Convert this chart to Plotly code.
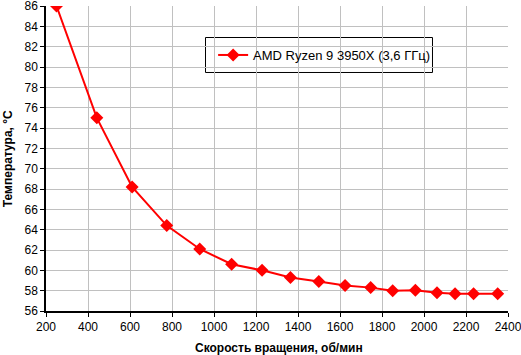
import plotly.graph_objects as go

rpm = [250, 442, 610, 775, 932, 1084, 1229, 1364, 1499, 1624, 1746, 1851, 1959, 2062, 2148, 2236, 2351]
temp = [86.0, 75.0, 68.2, 64.4, 62.1, 60.6, 60.0, 59.3, 58.9, 58.5, 58.3, 58.0, 58.05, 57.8, 57.7, 57.7, 57.7]
series_name = "AMD Ryzen 9 3950X (3,6 ГГц)"
x_title = "Скорость вращения, об/мин"
y_title = "Температура, °C"

fig = go.Figure()
fig.add_trace(go.Scatter(
    x=rpm, y=temp, mode="lines+markers", name=series_name,
    line=dict(color="#ff0000", width=2),
    marker=dict(symbol="diamond", size=10, color="#ff0000"),
))

ff = "Liberation Sans, Arial, sans-serif"
font = dict(family=ff, size=12, color="black")
fig.update_layout(
    width=521, height=355,
    margin=dict(l=46, r=13, t=6, b=44, autoexpand=False),
    paper_bgcolor="white", plot_bgcolor="white",
    font=font,
    showlegend=True,
    legend=dict(
        x=0.602, y=0.8393, xanchor="center", yanchor="middle",
        borderwidth=0, bgcolor="rgba(0,0,0,0)",
        font=dict(family=ff, size=13, color="black"),
    ),
    shapes=[dict(
        type="rect", xref="paper", yref="paper",
        x0=0.34524, x1=0.83658, y0=0.78197, y1=0.89672,
        line=dict(color="black", width=1), fillcolor="white", layer="below",
    )],
    annotations=[
        dict(text="<b>" + x_title + "</b>", xref="paper", yref="paper",
             x=0.505, y=-0.121, xanchor="center", yanchor="middle",
             showarrow=False, font=dict(family=ff, size=12, color="black")),
        dict(text="<b>" + y_title + "</b>", xref="paper", yref="paper",
             x=-0.083, y=0.5, xanchor="center", yanchor="middle", textangle=-90,
             showarrow=False, font=dict(family=ff, size=12, color="black")),
    ],
)
fig.update_xaxes(
    range=[200, 2400], dtick=200, tick0=200,
    showgrid=True, gridcolor="#c0c0c0", gridwidth=1,
    showline=True, linecolor="black", linewidth=1.5,
    ticks="outside", ticklen=4, tickcolor="black",
    zeroline=False, automargin=False, ticklabeloverflow="allow",
)
fig.update_yaxes(
    range=[56, 86], dtick=2,
    showgrid=True, gridcolor="#c0c0c0", gridwidth=1,
    showline=True, linecolor="black", linewidth=1.5,
    ticks="outside", ticklen=4, tickcolor="black",
    zeroline=False, automargin=False, ticklabeloverflow="allow",
)
fig.write_html(
    "out.html",
    config={"displayModeBar": False},
    post_script="document.body.style.margin='0';document.body.style.padding='0';",
)
